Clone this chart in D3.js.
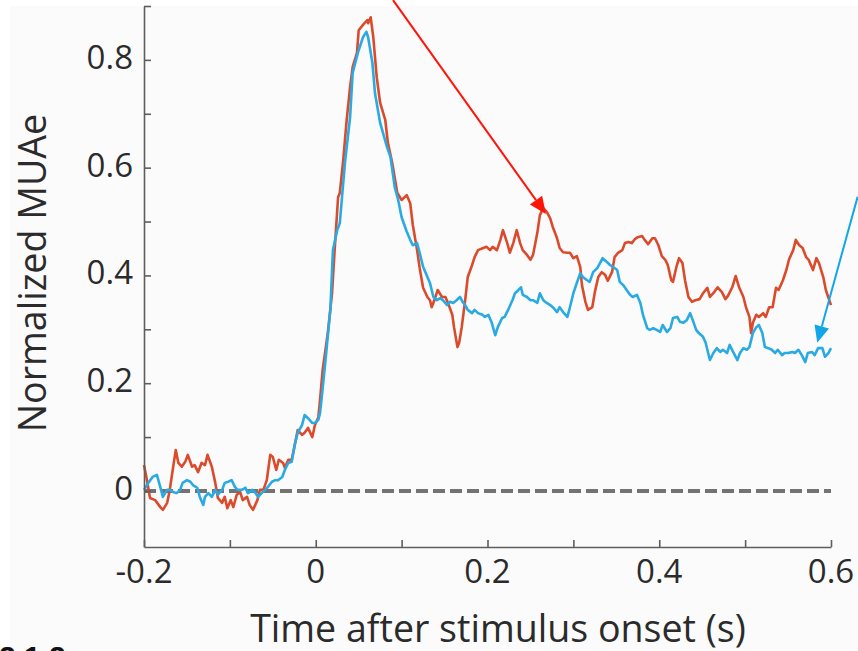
<!DOCTYPE html>
<html>
<head>
<meta charset="utf-8">
<script src="https://cdn.jsdelivr.net/npm/d3@7"></script>
<style>
  html, body { margin: 0; padding: 0; background: #ffffff; }
  svg { display: block; }
</style>
</head>
<body>
<svg id="chart" width="858" height="651"></svg>
<script>
// Time after stimulus onset (ms) and normalized MUAe, one array per condition.
const redTrace = [
  [-200,0.048],[-197,0.024],[-193,-0.013],[-187,-0.017],[-181,-0.030],[-178,-0.035],[-173,-0.022],[-170,0.002],
  [-166,0.045],[-163,0.076],[-160,0.052],[-156,0.045],[-152,0.054],[-149,0.067],[-144,0.045],[-141,0.048],
  [-137,0.035],[-133,0.052],[-129,0.048],[-126,0.067],[-121,0.045],[-117,0.015],[-114,-0.013],[-109,-0.022],
  [-106,-0.011],[-103,-0.032],[-99,-0.017],[-96,-0.030],[-92,-0.007],[-88,-0.002],[-85,-0.017],[-80,-0.011],
  [-77,-0.026],[-73,-0.035],[-68,-0.017],[-65,0.002],[-61,0.002],[-57,0.020],[-53,0.067],[-50,0.063],
  [-46,0.039],[-43,0.058],[-38,0.052],[-36,0.043],[-32,0.058],[-28,0.058],[-24,0.089],[-21,0.113],
  [-16,0.104],[-13,0.108],[-9,0.117],[-4,0.100],[-1,0.122],[3,0.137],[5,0.169],[8,0.224],
  [14,0.293],[19,0.367],[22,0.447],[26,0.545],[28,0.553],[32,0.614],[36,0.688],[40,0.750],
  [43,0.787],[48,0.813],[50,0.855],[55,0.865],[60,0.874],[61,0.868],[64,0.879],[67,0.842],
  [71,0.768],[75,0.720],[81,0.688],[84,0.646],[89,0.609],[95,0.553],[100,0.540],[106,0.549],
  [110,0.534],[113,0.494],[118,0.447],[121,0.414],[125,0.377],[130,0.360],[133,0.354],[135,0.341],
  [139,0.358],[142,0.373],[147,0.360],[151,0.360],[154,0.349],[159,0.327],[161,0.304],[165,0.267],
  [167,0.275],[170,0.304],[174,0.354],[177,0.397],[182,0.419],[185,0.434],[189,0.447],[195,0.451],
  [199,0.453],[203,0.447],[206,0.453],[211,0.447],[215,0.466],[218,0.484],[223,0.460],[226,0.442],
  [230,0.460],[234,0.484],[238,0.460],[241,0.447],[246,0.438],[250,0.429],[253,0.438],[258,0.479],
  [261,0.512],[265,0.525],[269,0.518],[273,0.506],[276,0.490],[281,0.469],[284,0.451],[288,0.443],
  [293,0.442],[296,0.442],[300,0.432],[304,0.436],[308,0.416],[310,0.382],[314,0.351],[317,0.336],
  [322,0.341],[325,0.369],[329,0.397],[333,0.406],[337,0.401],[340,0.390],[345,0.406],[348,0.434],
  [352,0.442],[357,0.447],[360,0.460],[364,0.462],[368,0.460],[372,0.468],[375,0.471],[380,0.473],
  [383,0.466],[387,0.458],[392,0.469],[395,0.469],[399,0.456],[403,0.436],[407,0.429],[410,0.419],
  [414,0.391],[416,0.388],[420,0.416],[423,0.432],[427,0.423],[430,0.391],[434,0.360],[438,0.351],
  [442,0.354],[447,0.356],[451,0.367],[456,0.377],[459,0.360],[463,0.367],[468,0.378],[473,0.369],
  [477,0.356],[480,0.362],[485,0.378],[489,0.399],[493,0.378],[498,0.360],[501,0.341],[505,0.323],
  [507,0.293],[509,0.312],[513,0.327],[516,0.323],[521,0.330],[524,0.323],[528,0.341],[532,0.341],
  [536,0.377],[539,0.373],[544,0.391],[548,0.410],[551,0.429],[556,0.447],[559,0.466],[563,0.456],
  [567,0.451],[571,0.434],[574,0.429],[579,0.410],[583,0.432],[586,0.423],[591,0.397],[594,0.373],
  [598,0.354],[600,0.345]
];

const blueTrace = [
  [-200,0.002],[-195,0.015],[-190,0.026],[-185,0.030],[-181,0.007],[-178,-0.011],[-173,0.002],[-170,0.002],
  [-166,-0.002],[-162,-0.004],[-158,0.002],[-155,0.015],[-150,0.020],[-146,0.017],[-143,0.011],[-138,0.006],
  [-135,-0.011],[-131,-0.026],[-129,-0.011],[-125,-0.004],[-121,-0.011],[-117,0.002],[-114,-0.007],[-109,0.002],
  [-106,0.015],[-102,0.017],[-98,0.020],[-94,0.007],[-91,0.002],[-86,0.002],[-82,0.006],[-79,-0.004],
  [-74,0.002],[-71,-0.002],[-67,-0.011],[-63,-0.004],[-59,0.002],[-56,0.007],[-51,0.017],[-47,0.020],
  [-44,0.020],[-39,0.026],[-36,0.039],[-32,0.052],[-28,0.054],[-24,0.089],[-21,0.108],[-16,0.122],
  [-13,0.141],[-9,0.135],[-4,0.126],[-1,0.126],[3,0.132],[5,0.145],[7,0.174],[11,0.237],
  [17,0.336],[20,0.447],[25,0.484],[28,0.497],[34,0.609],[40,0.694],[43,0.776],[49,0.813],
  [55,0.842],[59,0.852],[61,0.842],[66,0.794],[69,0.738],[75,0.683],[83,0.638],[87,0.620],
  [92,0.564],[96,0.540],[100,0.508],[106,0.481],[110,0.466],[113,0.456],[118,0.460],[121,0.442],
  [125,0.416],[130,0.397],[133,0.386],[137,0.360],[141,0.354],[145,0.358],[148,0.354],[153,0.345],
  [156,0.351],[160,0.349],[164,0.354],[168,0.360],[171,0.351],[174,0.345],[177,0.336],[182,0.330],
  [185,0.336],[189,0.330],[194,0.327],[197,0.323],[201,0.327],[205,0.312],[209,0.289],[212,0.304],
  [217,0.321],[220,0.323],[224,0.336],[229,0.354],[232,0.367],[236,0.373],[239,0.378],[241,0.364],
  [246,0.360],[250,0.354],[253,0.354],[258,0.349],[261,0.367],[265,0.354],[269,0.349],[273,0.345],
  [276,0.341],[281,0.332],[284,0.341],[288,0.332],[293,0.323],[296,0.341],[300,0.367],[304,0.386],
  [308,0.404],[311,0.397],[316,0.391],[319,0.388],[323,0.406],[328,0.414],[331,0.423],[334,0.432],
  [339,0.425],[343,0.419],[346,0.416],[351,0.410],[354,0.388],[358,0.382],[362,0.373],[366,0.364],
  [369,0.360],[374,0.364],[378,0.349],[381,0.327],[386,0.302],[389,0.299],[393,0.302],[397,0.299],
  [401,0.295],[404,0.308],[409,0.295],[413,0.302],[416,0.321],[421,0.323],[424,0.314],[428,0.312],
  [432,0.317],[436,0.330],[439,0.317],[443,0.299],[446,0.293],[451,0.286],[454,0.275],[459,0.243],
  [463,0.256],[467,0.265],[471,0.258],[474,0.262],[479,0.256],[482,0.271],[486,0.258],[491,0.243],
  [494,0.256],[498,0.265],[502,0.262],[505,0.267],[509,0.293],[513,0.304],[516,0.308],[520,0.293],
  [523,0.267],[527,0.265],[531,0.262],[535,0.256],[538,0.262],[543,0.252],[546,0.256],[550,0.256],
  [555,0.258],[558,0.256],[562,0.262],[566,0.252],[570,0.239],[573,0.256],[578,0.258],[581,0.252],
  [585,0.265],[590,0.265],[593,0.249],[597,0.256],[600,0.265]
];

// Axis ticks (time in ms, value in normalized units).
const xTicks = [-200, -100, 0, 100, 200, 300, 400, 500, 600];
const xTickLabels = ["-0.2", "", "0", "", "0.2", "", "0.4", "", "0.6"];
const yTicks = [0, 0.1, 0.2, 0.3, 0.4, 0.5, 0.6, 0.7, 0.8, 0.9];
const yTickLabels = ["0", "", "0.2", "", "0.4", "", "0.6", "", "0.8", ""];
const baselineValue = 0;

// Arrow callouts: start and tip in (ms, value).
const arrowNotes = [
  { from: [90, 0.911], to: [268, 0.514], color: "#ff1508" },
  { from: [631, 0.546], to: [584, 0.275], color: "#12a6e8" }
];

const xTitle = "Time after stimulus onset (s)";
const yTitle = "Normalized MUAe";
const panelTag = "2.1.2";

const svg = d3.select("#chart");
const W = 858, H = 651;

// page background: faint grey sheet with white margins at top and left
svg.append("rect").attr("width", W).attr("height", H).attr("fill", "#ffffff");
svg.append("rect").attr("x", 10).attr("y", 6).attr("width", W - 10).attr("height", H - 6).attr("fill", "#fbfbfb");

const x = d3.scaleLinear().domain([-200, 600]).range([144, 831]);
const y = d3.scaleLinear().domain([-0.104, 0.9]).range([547, 6]);

const axisColor = "#5e5e5e";
const font = "'Open Sans', 'DejaVu Sans', sans-serif";

// zero baseline, dashed
svg.append("line")
  .attr("x1", x(-200)).attr("x2", x(600))
  .attr("y1", y(baselineValue)).attr("y2", y(baselineValue))
  .attr("stroke", "#737373").attr("stroke-width", 4)
  .attr("stroke-dasharray", "12,5");

// traces
const line = d3.line().x(d => x(d[0])).y(d => y(d[1])).curve(d3.curveLinear);
svg.append("path").datum(redTrace)
  .attr("d", line).attr("fill", "none")
  .attr("stroke", "#dc4a2c").attr("stroke-width", 2.6)
  .attr("stroke-linejoin", "round");
svg.append("path").datum(blueTrace)
  .attr("d", line).attr("fill", "none")
  .attr("stroke", "#2aaae2").attr("stroke-width", 2.6)
  .attr("stroke-linejoin", "round");

// axes with inward ticks
const gx = svg.append("g").attr("transform", `translate(0,${y(-0.104)})`)
  .call(d3.axisBottom(x).tickValues(xTicks).tickSize(-7).tickSizeOuter(0).tickFormat(""));
const gy = svg.append("g").attr("transform", `translate(${x(-200)},0)`)
  .call(d3.axisLeft(y).tickValues(yTicks).tickSize(-7).tickSizeOuter(0).tickFormat(""));
[gx, gy].forEach(g => {
  g.select(".domain").attr("stroke", axisColor).attr("stroke-width", 1.6);
  g.selectAll(".tick line").attr("stroke", axisColor).attr("stroke-width", 1.6);
});

// tick labels
svg.append("g").selectAll("text").data(xTicks.map((t, i) => [t, xTickLabels[i]]).filter(d => d[1]))
  .join("text")
  .attr("x", d => x(d[0])).attr("y", 583)
  .attr("text-anchor", "middle")
  .attr("font-family", font).attr("font-size", 33).attr("fill", "#2b2b2b")
  .text(d => d[1]);
svg.append("g").selectAll("text").data(yTicks.map((t, i) => [t, yTickLabels[i]]).filter(d => d[1]))
  .join("text")
  .attr("x", 133).attr("y", d => y(d[0]) + 9)
  .attr("text-anchor", "end")
  .attr("font-family", font).attr("font-size", 33).attr("fill", "#2b2b2b")
  .text(d => d[1]);

// axis titles
svg.append("text")
  .attr("x", 498).attr("y", 642)
  .attr("text-anchor", "middle")
  .attr("font-family", font).attr("font-size", 37.6).attr("fill", "#2b2b2b")
  .text(xTitle);
svg.append("text")
  .attr("transform", "translate(46,273) rotate(-90)")
  .attr("text-anchor", "middle")
  .attr("font-family", font).attr("font-size", 37.6).attr("fill", "#2b2b2b")
  .text(yTitle);

// arrows
arrowNotes.forEach(a => {
  const x0 = x(a.from[0]), y0 = y(a.from[1]);
  const x1 = x(a.to[0]), y1 = y(a.to[1]);
  const dx = x1 - x0, dy = y1 - y0, len = Math.hypot(dx, dy);
  const ux = dx / len, uy = dy / len;
  const headLen = 17, headHalf = 7.5;
  const bx = x1 - ux * headLen, by = y1 - uy * headLen;
  svg.append("line")
    .attr("x1", x0).attr("y1", y0).attr("x2", bx).attr("y2", by)
    .attr("stroke", a.color).attr("stroke-width", 2);
  svg.append("polygon")
    .attr("points", [
      [x1, y1],
      [bx - uy * headHalf, by + ux * headHalf],
      [bx + uy * headHalf, by - ux * headHalf]
    ].map(p => p.join(",")).join(" "))
    .attr("fill", a.color);
});

// panel number, partly below the page edge
svg.append("text")
  .attr("x", -1).attr("y", 667)
  .attr("font-family", "'Liberation Sans', Arial, sans-serif")
  .attr("font-weight", "bold").attr("font-size", 30).attr("fill", "#111")
  .text(panelTag);
</script>
</body>
</html>
